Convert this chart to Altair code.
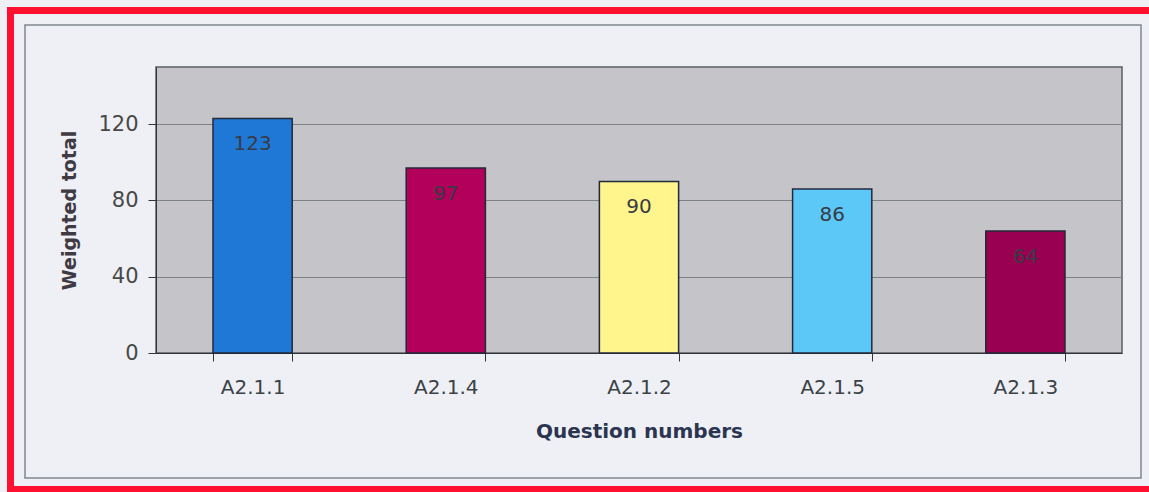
import altair as alt
import pandas as pd

questions = ["A2.1.1", "A2.1.4", "A2.1.2", "A2.1.5", "A2.1.3"]
totals = [123, 97, 90, 86, 64]
bar_colors = ["#1f78d6", "#b3005a", "#fff58c", "#5cc8f8", "#9a0052"]
y_ticks = [0, 40, 80, 120]

df = pd.DataFrame({"q": questions, "v": totals})
one = pd.DataFrame({"a": [0]})

W, H = 966, 286
font = "DejaVu Sans"

x_enc = alt.X(
    "q:N",
    sort=questions,
    scale=alt.Scale(paddingInner=0.59, paddingOuter=0.295),
    axis=alt.Axis(
        title="Question numbers",
        labelAngle=0,
        tickBand="extent",
        tickSize=8,
        tickColor="#333333",
        domainColor="#333333",
        labelFont=font,
        labelFontSize=20,
        labelColor="#3a4246",
        labelPadding=16,
        titleFont=font,
        titleFontSize=20,
        titleFontWeight="bold",
        titleColor="#2b3550",
        titlePadding=24,
        grid=False,
    ),
)
y_enc = alt.Y(
    "v:Q",
    scale=alt.Scale(domain=[0, 150], nice=False),
    axis=alt.Axis(
        title="Weighted total",
        values=y_ticks,
        tickSize=8,
        tickColor="#333333",
        domainColor="#333333",
        labelFont=font,
        labelFontSize=21,
        labelColor="#484846",
        labelPadding=10,
        titleFont=font,
        titleFontSize=19,
        titleFontWeight="bold",
        titleColor="#403a44",
        titlePadding=18,
        grid=True,
        gridColor="#7d8284",
        gridWidth=1,
    ),
)

red_frame = alt.Chart(one).mark_rect(
    fill=None, stroke="#ff1030", strokeWidth=7
).encode(
    x=alt.value(-145.5), x2=alt.value(1010), y=alt.value(-56.5), y2=alt.value(422.5)
)
panel = alt.Chart(one).mark_rect(
    fill=None, stroke="#80868c", strokeWidth=1.5
).encode(
    x=alt.value(-131), x2=alt.value(985), y=alt.value(-42), y2=alt.value(411)
)

bars = alt.Chart(df).mark_bar(stroke="#23283a", strokeWidth=1.5).encode(
    x=x_enc,
    y=y_enc,
    color=alt.Color(
        "q:N",
        scale=alt.Scale(domain=questions, range=bar_colors),
        legend=None,
    ),
)
labels = alt.Chart(df).mark_text(
    baseline="top", dy=16, fontSize=20, font=font, color="#383b46"
).encode(
    x=alt.X("q:N", sort=questions),
    y="v:Q",
    text="v:Q",
)

chart = (
    alt.layer(red_frame, panel, bars, labels)
    .properties(
        width=W,
        height=H,
        background="#eef0f5",
        padding={"left": 156, "top": 67, "right": 27, "bottom": 139},
        autosize=alt.AutoSizeParams(type="none"),
    )
    .configure_view(fill="#c5c5c9", stroke="#5a5e62", strokeWidth=1.5)
)

chart.save("out.html", embed_options={"renderer": "svg", "actions": False})
